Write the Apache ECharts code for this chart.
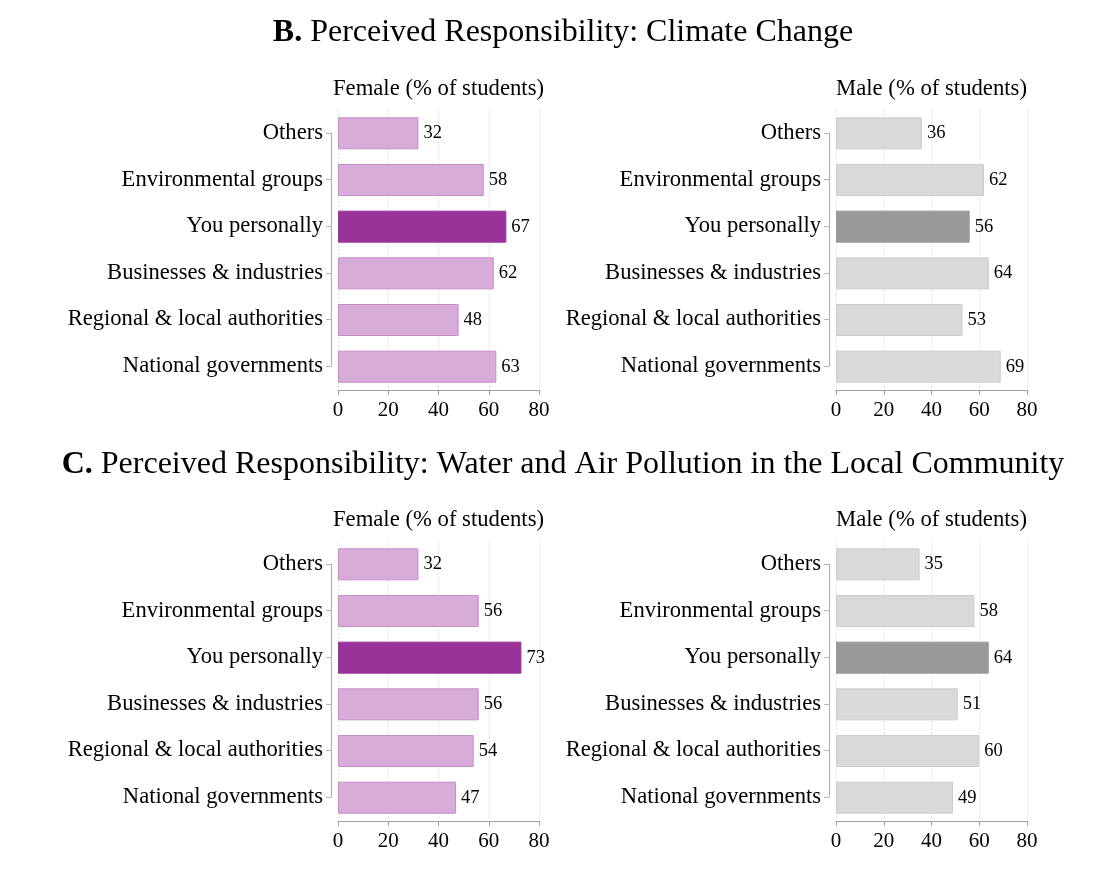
<!DOCTYPE html>
<html>
<head>
<meta charset="utf-8">
<script src="https://cdn.jsdelivr.net/npm/echarts@6/dist/echarts.min.js"></script>
<style>
  html, body { margin: 0; padding: 0; background: #fff; }
  #chart { width: 1105px; height: 876px; }
</style>
</head>
<body>
<div id="chart"></div>
<script type="text/javascript">
// categories, top to bottom
var categories = ['Others', 'Environmental groups', 'You personally',
    'Businesses & industries', 'Regional & local authorities', 'National governments'];
var highlightIndex = 2; // "You personally"

// B. climate change
var climateFemale = [32, 58, 67, 62, 48, 63];
var climateMale = [36, 62, 56, 64, 53, 69];
// C. water & air pollution
var pollutionFemale = [32, 56, 73, 56, 54, 47];
var pollutionMale = [35, 58, 64, 51, 60, 49];

var xTicks = [0, 20, 40, 60, 80];

var serif = 'Liberation Serif';
var chart = echarts.init(document.getElementById('chart'));

// panel layout: grid boxes
var panels = [
    { values: climateFemale, left: 338, width: 201, top: 110, sub: 'Female (% of students)', light: '#d8acd8', border: '#c68cc6', dark: '#993399' },
    { values: climateMale, left: 836, width: 191, top: 110, sub: 'Male (% of students)', light: '#d9d9d9', border: '#cccccc', dark: '#999999' },
    { values: pollutionFemale, left: 338, width: 201, top: 541, sub: 'Female (% of students)', light: '#d8acd8', border: '#c68cc6', dark: '#993399' },
    { values: pollutionMale, left: 836, width: 191, top: 541, sub: 'Male (% of students)', light: '#d9d9d9', border: '#cccccc', dark: '#999999' }
];

var grids = [], xAxes = [], yAxes = [], series = [];
var bigTitle = function (text, top) {
    return {
        text: text, left: 563, textAlign: 'center', top: top, padding: 0,
        textStyle: { fontFamily: serif, fontSize: 32, fontWeight: 'normal', color: '#000',
            rich: { b: { fontFamily: serif, fontSize: 32, fontWeight: 'bold', color: '#000' } } }
    };
};
var titles = [
    bigTitle('{b|B.} Perceived Responsibility: Climate Change', 17),
    bigTitle('{b|C.} Perceived Responsibility: Water and Air Pollution in the Local Community', 449)
];

panels.forEach(function (p, i) {
    var g = grids.length;
    // main grid: bars + x axis
    grids.push({ left: p.left, top: p.top, width: p.width, height: 280 });
    // second grid: y axis line running from first to last category
    grids.push({ left: p.left, top: p.top + 23, width: p.width, height: 233 });

    xAxes.push({
        type: 'value', gridIndex: g, min: 0, max: 80, interval: 20,
        axisLine: { show: true, lineStyle: { color: '#a0a0a0', width: 1 } },
        axisTick: { show: true, length: 5, lineStyle: { color: '#a0a0a0' } },
        axisLabel: { fontFamily: serif, fontSize: 21, color: '#000', margin: 10,
            formatter: function (v) { return xTicks.indexOf(v) >= 0 ? String(v) : ''; } },
        splitLine: { show: true, lineStyle: { type: [1, 3], color: '#c8c8c8', width: 1 } }
    });
    xAxes.push({ type: 'value', gridIndex: g + 1, min: 0, max: 80, show: false });

    yAxes.push({
        type: 'category', gridIndex: g, data: categories, inverse: true,
        boundaryGap: true, show: false
    });
    yAxes.push({
        type: 'category', gridIndex: g + 1, data: categories, inverse: true,
        boundaryGap: false, offset: 7,
        axisLine: { show: true, onZero: false, lineStyle: { color: '#b4b4b4', width: 1.2 } },
        axisTick: { show: true, length: 5, lineStyle: { color: '#b4b4b4' } },
        axisLabel: { fontFamily: serif, fontSize: 22.6, color: '#000', margin: 8,
            padding: [3, 0, 0, 0] },
        splitLine: { show: false }
    });

    series.push({
        type: 'bar', xAxisIndex: g, yAxisIndex: g, barWidth: 32,
        data: p.values.map(function (v, k) {
            return {
                value: v,
                itemStyle: {
                    color: k === highlightIndex ? p.dark : p.light,
                    borderColor: k === highlightIndex ? p.dark : p.border,
                    borderWidth: 1
                }
            };
        }),
        label: { show: true, position: 'right', distance: 5,
            fontFamily: serif, fontSize: 18.5, color: '#000' },
        silent: true
    });

    titles.push({
        text: p.sub, left: p.left + p.width / 2, textAlign: 'center', top: p.top - 32,
        padding: 0,
        textStyle: { fontFamily: serif, fontSize: 22.7, fontWeight: 'normal', color: '#000' }
    });
});

var option = {
    backgroundColor: '#fff',
    animation: false,
    title: titles,
    grid: grids,
    xAxis: xAxes,
    yAxis: yAxes,
    series: series
};
chart.setOption(option);
window.addEventListener('resize', function () { chart.resize(); });
</script>
</body>
</html>
